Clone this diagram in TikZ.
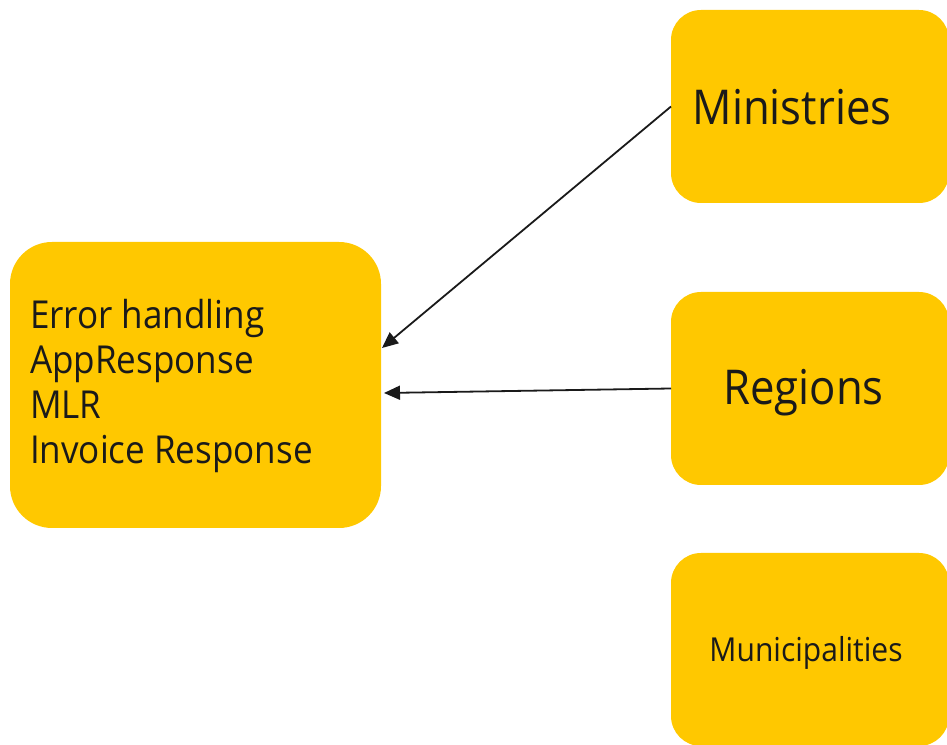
\documentclass[tikz,border=0pt]{standalone}
\usepackage{fontspec}
\setmainfont{Open Sans}[FakeStretch=0.91]
\usetikzlibrary{arrows.meta}
\definecolor{boxyellow}{HTML}{FFC800}
\definecolor{txtcol}{HTML}{1A1A1A}
\begin{document}
\begin{tikzpicture}[x=1pt,y=1pt,
  box/.style={fill=boxyellow, draw=none, rounded corners=#1, inner sep=0pt, outer sep=0pt},
  rbox/.style={box=30pt, minimum width=278pt, minimum height=193pt},
  lbl/.style={text=txtcol, inner sep=0pt, outer sep=0pt},
  conn/.style={draw=txtcol, line width=1.8pt, -{Triangle[length=16pt,width=14pt]}}]
\useasboundingbox (0,0) rectangle (947,744);
% boxes
\node[box=42pt, minimum width=371pt, minimum height=286pt] (resp) at (195.5,359) {};
\node[rbox] (min) at (810,637.5) {};
\node[rbox] (reg) at (810,355.5) {};
\node[rbox] (mun) at (810,94.5) {};
% texts
\node[lbl, anchor=base west, font=\fontsize{38.5}{46}\selectfont] (t1) at (30,415) {Error handling};
\node[lbl, anchor=base west, font=\fontsize{38.5}{46}\selectfont] (t2) at (30,370) {AppResponse};
\node[lbl, anchor=base west, font=\fontsize{38.5}{46}\selectfont] (t3) at (30,325) {MLR};
\node[lbl, anchor=base west, font=\fontsize{38.5}{46}\selectfont] (t4) at (30,280) {Invoice Response};
\node[lbl, anchor=base, font=\fontsize{48}{56}\selectfont] (tmin) at (792,619) {Ministries};
\node[lbl, anchor=base, font=\fontsize{48}{56}\selectfont] (treg) at (803.5,339) {Regions};
\node[lbl, anchor=base, font=\fontsize{33}{40}\selectfont] (tmun) at (806,82) {Municipalities};
% connectors
\draw[conn] (min.west) -- ([xshift=1pt,yshift=37pt]resp.east);
\draw[conn] (reg.west) -- ([xshift=3pt,yshift=-8pt]resp.east);
\end{tikzpicture}
\end{document}
